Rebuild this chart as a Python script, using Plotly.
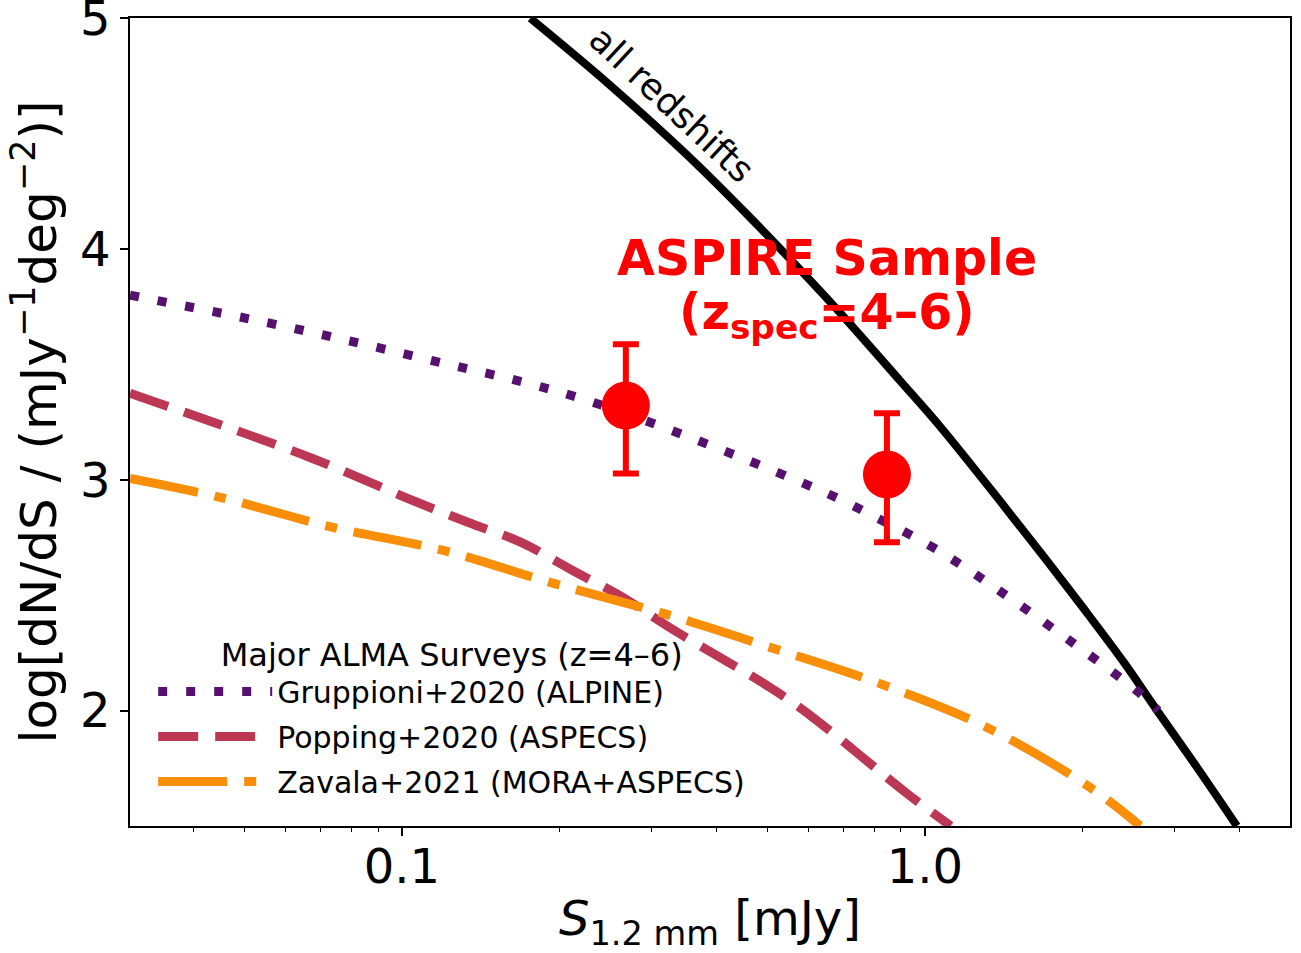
import numpy as np
import plotly.graph_objects as go

# ---- data ----
all_z_S = [0.176, 0.25, 0.35, 0.457, 0.6, 0.697, 0.896, 1.07, 1.39, 1.71, 2.0, 2.4, 2.78, 3.3, 3.95]
all_z_v = [5.00, 4.71, 4.41, 4.15, 3.87, 3.71, 3.43, 3.23, 2.91, 2.65, 2.45, 2.21, 2.00, 1.76, 1.50]

grup_S = [0.0302, 0.0585, 0.108, 0.226, 0.65, 0.813, 1.02, 1.257, 1.89, 2.58, 2.79]
grup_v = [3.80, 3.669, 3.530, 3.344, 2.941, 2.833, 2.716, 2.586, 2.304, 2.074, 2.0]

popp_S = [0.0302, 0.0667, 0.106, 0.134, 0.169, 0.212, 0.265, 0.325, 0.506, 0.611, 0.924, 1.12]
popp_v = [3.375, 3.097, 2.906, 2.815, 2.729, 2.607, 2.490, 2.36, 2.10, 1.970, 1.641, 1.5]

zav_S = [0.0302, 0.0449, 0.0738, 0.120, 0.195, 0.316, 0.506, 0.820, 1.314, 2.07, 2.58]
zav_v = [3.006, 2.924, 2.794, 2.694, 2.551, 2.421, 2.274, 2.117, 1.927, 1.667, 1.5]

aspire_S = [0.268, 0.846]
aspire_v = [3.322, 3.023]
aspire_err_hi = [0.265, 0.265]
aspire_err_lo = [0.295, 0.294]

x_tickvals = [0.1, 1.0]
x_ticktext = ["0.1", "1.0"]
x_minor = [0.04, 0.05, 0.06, 0.07, 0.08, 0.09, 0.2, 0.3, 0.4, 0.5, 0.6, 0.7, 0.8, 0.9, 2, 3, 4]
y_tickvals = [2, 3, 4, 5]
y_ticktext = ["2", "3", "4", "5"]

FONT = "DejaVu Sans"
PURPLE = "#56106e"
CRIMSON = "#bb3754"
ORANGE = "#f98e09"

fig = go.Figure()

fig.add_trace(go.Scatter(x=all_z_S, y=all_z_v, mode="lines", showlegend=False,
                         line=dict(color="black", width=8, shape="spline")))
fig.add_trace(go.Scatter(x=grup_S, y=grup_v, mode="lines", name="Gruppioni+2020 (ALPINE)",
                         legendgroup="a",
                         line=dict(color=PURPLE, width=9, dash="9px,19px", shape="spline")))
fig.add_trace(go.Scatter(x=popp_S, y=popp_v, mode="lines", name="Popping+2020 (ASPECS)",
                         legendgroup="b",
                         line=dict(color=CRIMSON, width=9, dash="40px,17px", shape="spline")))
fig.add_trace(go.Scatter(x=zav_S, y=zav_v, mode="lines", name="Zavala+2021 (MORA+ASPECS)",
                         legendgroup="c",
                         line=dict(color=ORANGE, width=9, dash="69px,17px,12px,17px", shape="spline")))
fig.add_trace(go.Scatter(x=aspire_S, y=aspire_v, mode="markers", showlegend=False,
                         marker=dict(color="#ff0000", size=48),
                         error_y=dict(type="data", symmetric=False, array=aspire_err_hi,
                                      arrayminus=aspire_err_lo, color="#ff0000",
                                      thickness=6, width=13)))

fig.add_annotation(x=np.log10(0.328), y=4.625, text="all redshifts", textangle=43,
                   showarrow=False, font=dict(family=FONT, size=36, color="black"),
                   xanchor="center", yanchor="middle")
fig.add_annotation(x=np.log10(0.65), y=3.96, text="<b>ASPIRE Sample</b>",
                   showarrow=False, font=dict(family=FONT, size=49, color="#ff0000"),
                   xanchor="center", yanchor="middle")
fig.add_annotation(x=np.log10(0.65), y=3.71, text="<b>(z<sub>spec</sub>=4–6)</b>",
                   showarrow=False, font=dict(family=FONT, size=49, color="#ff0000"),
                   xanchor="center", yanchor="middle")

fig.update_layout(
    width=1301, height=953,
    margin=dict(l=130, r=11, t=18, b=127, autoexpand=False),
    plot_bgcolor="white", paper_bgcolor="white",
    font=dict(family=FONT, color="black"),
    legend=dict(x=0.02, y=0.25, xanchor="left", yanchor="top",
                bgcolor="rgba(0,0,0,0)", font=dict(family=FONT, size=30),
                title=dict(text="Major ALMA Surveys (z=4–6)", side="top center",
                           font=dict(family=FONT, size=32)),
                tracegroupgap=3, itemwidth=114),
)
fig.update_xaxes(type="log", range=[np.log10(0.0302), np.log10(4.99)],
                 tickmode="array", tickvals=x_tickvals, ticktext=x_ticktext,
                 ticks="outside", ticklen=8, tickwidth=1.5, tickcolor="black",
                 ticklabelstandoff=-10,
                 minor=dict(tickmode="array", tickvals=x_minor, ticks="outside",
                            ticklen=4, tickwidth=1, tickcolor="black", showgrid=False),
                 showline=True, mirror=True, linecolor="black", linewidth=1.5,
                 showgrid=False, zeroline=False, automargin=False,
                 tickfont=dict(family=FONT, size=48, color="black"),
                 title=dict(text="<i>S</i><sub>1.2 mm</sub> [mJy]", standoff=24,
                            font=dict(family=FONT, size=48, color="black")))
fig.update_yaxes(range=[1.5, 5.001], tickmode="array", tickvals=y_tickvals, ticktext=y_ticktext,
                 ticks="outside", ticklen=8, tickwidth=1.5, tickcolor="black",
                 ticklabeloverflow="allow",
                 showline=True, mirror=True, linecolor="black", linewidth=1.5,
                 showgrid=False, zeroline=False, automargin=False,
                 tickfont=dict(family=FONT, size=48, color="black"),
                 title=dict(text="log[dN/dS / (mJy<sup>−1</sup>deg<sup>−2</sup>)]", standoff=8,
                            font=dict(family=FONT, size=50, color="black")))

# remove the browser's default 8px page margin so the figure fills the window exactly
fig.write_html("out.html", config={"displayModeBar": False},
               post_script="document.body.style.margin='0';document.body.style.overflow='hidden';")
